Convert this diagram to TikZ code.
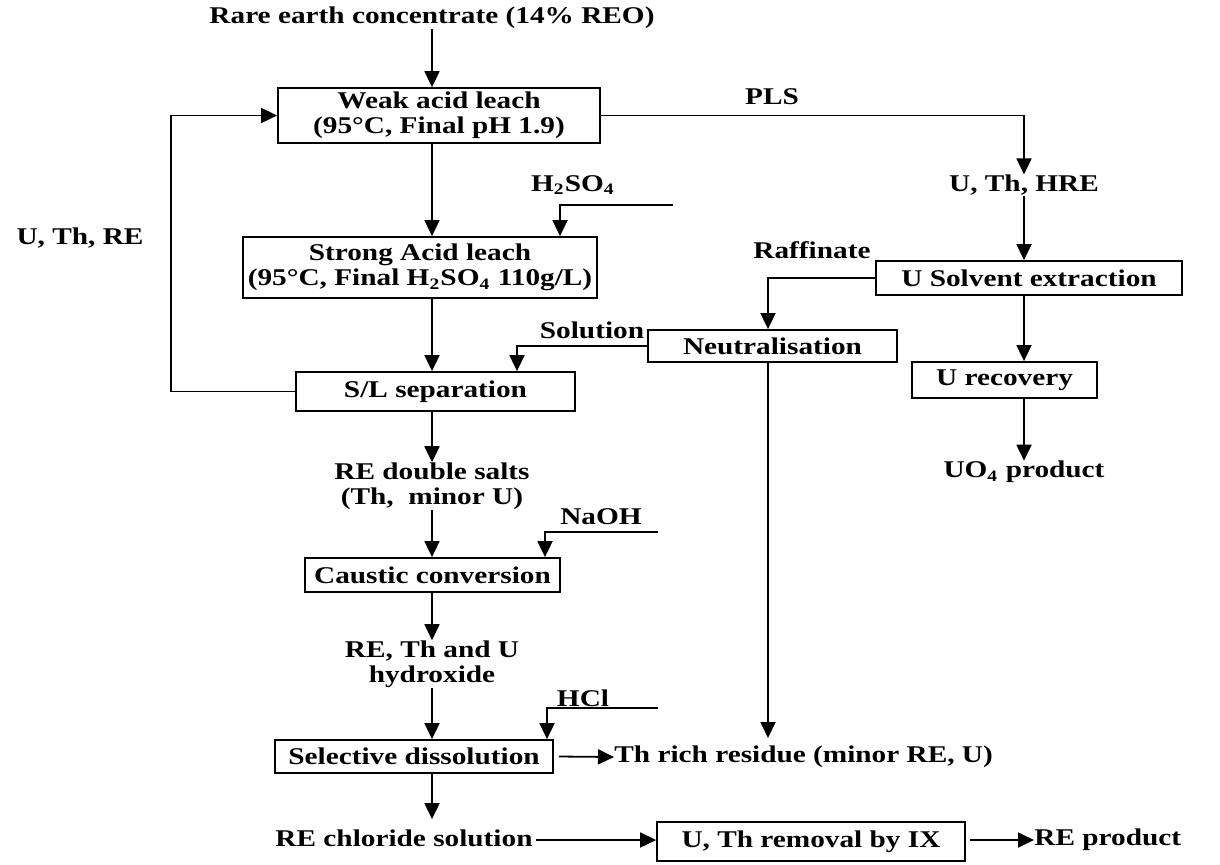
\documentclass[tikz,border=0pt]{standalone}
\usepackage{fontspec}
\setmainfont{Liberation Serif}
\usepackage{graphicx}
\usetikzlibrary{arrows.meta}
\newcommand\sx[1]{\scalebox{1.22}[1]{#1}}
\begin{document}
\begin{tikzpicture}[x=0.5pt,y=-0.5pt,
  every node/.style={font=\fontsize{12}{12.5}\selectfont\bfseries, inner sep=0pt, align=center},
  box/.style={draw, line width=0.9pt},
  arr/.style={line width=0.9pt, -{Triangle[length=8pt,width=7.5pt]}},
  ln/.style={line width=0.9pt}]
\useasboundingbox (0,0) rectangle (1220,864);
% guide coordinates
\coordinate (cx) at (432,0);
\coordinate (rx) at (1024,0);
\coordinate (nx) at (768,0);
\coordinate (sx) at (517,0);
\coordinate (h2x) at (560,0);
\coordinate (nax) at (545,0);
\coordinate (hcx) at (547,0);
\coordinate (h2in) at (673,205);
\coordinate (nain) at (658,532);
\coordinate (hcin) at (658,708);
\coordinate (thtop) at (768,738);
\coordinate (reout) at (536,840);
\coordinate (ixout) at (970,840);
% boxes
\node[box, minimum width=161pt, minimum height=27.5pt] (weak) at (439,115.5) {\sx{Weak acid leach}\\\sx{(95°C, Final pH 1.9)}};
\node[box, minimum width=177pt, minimum height=30.5pt] (strong) at (420,267.5) {\sx{Strong Acid leach}\\\sx{(95°C, Final H\textsubscript{2}SO\textsubscript{4} 110g/L)}};
\node[box, minimum width=139.5pt, minimum height=19.5pt] (sl) at (435.5,391.5) {\sx{S/L separation}};
\node[box, minimum width=127.5pt, minimum height=17pt] (caustic) at (432.5,575) {\sx{Caustic conversion}};
\node[box, minimum width=139pt, minimum height=16.5pt] (selective) at (414,756.5) {\sx{Selective dissolution}};
\node[box, minimum width=154pt, minimum height=19.5pt] (ix) at (811,841.5) {\sx{U, Th removal by IX}};
\node[box, minimum width=124.5pt, minimum height=16pt] (neutral) at (772.5,346) {\sx{Neutralisation}};
\node[box, minimum width=153pt, minimum height=17pt] (usx) at (1029,278) {\sx{U Solvent extraction}};
\node[box, minimum width=92.5pt, minimum height=18pt] (urec) at (1004.5,380) {\sx{U recovery}};
% labels
\node (title) at (432,18) {\sx{Rare earth concentrate (14\% REO)}};
\node (pls) at (772,97) {\sx{PLS}};
\node (uthre) at (1024,185) {\sx{U, Th, HRE}};
\node (uthrel) at (80,238) {\sx{U, Th, RE}};
\node (h2so4) at (573,185) {\sx{H\textsubscript{2}SO\textsubscript{4}}};
\node (raff) at (812,250) {\sx{Raffinate}};
\node (sol) at (592,330) {\sx{Solution}};
\node (uo4) at (1024,472) {\sx{UO\textsubscript{4} product}};
\node (salts) at (432,486) {\sx{RE double salts}\\\sx{(Th,\ \ minor U)}};
\node (naoh) at (601,517) {\sx{NaOH}};
\node (hydrox) at (432,664) {\sx{RE, Th and U}\\\sx{hydroxide}};
\node (hcl) at (583,698) {\sx{HCl}};
\node[anchor=west] (thres) at (614,757) {\sx{Th rich residue (minor RE, U)}};
\node (recl) at (404,838) {\sx{RE chloride solution}};
\node[anchor=west] (reprod) at (1034,840) {\sx{RE product}};
% connectors
\draw[arr] (title.south) -- (weak.north -| cx);
\draw[arr] (weak.south -| cx) -- (strong.north -| cx);
\draw[arr] (strong.south -| cx) -- (sl.north -| cx);
\draw[arr] (sl.west) -- ++(-124,0) |- (weak.west);
\draw[arr] (weak.east) -| (uthre.north);
\draw[arr] (h2in) -| (strong.north -| h2x);
\draw[arr] (uthre.south) -- (usx.north -| rx);
\draw[arr] (usx.south -| rx) -- (urec.north -| rx);
\draw[arr] (urec.south -| rx) -- (uo4.north);
\draw[arr] (usx.west) -| (neutral.north -| nx);
\draw[arr] (neutral.west) -| (sl.north -| sx);
\draw[arr] (neutral.south -| nx) -- (thtop);
\draw[arr] (sl.south -| cx) -- (salts.north);
\draw[arr] (salts.south) -- (caustic.north -| cx);
\draw[arr] (nain) -| (caustic.north -| nax);
\draw[arr] (caustic.south -| cx) -- (hydrox.north);
\draw[arr] (hydrox.south) -- (selective.north -| cx);
\draw[arr] (hcin) -| (selective.north -| hcx);
\draw[arr] ([xshift=2.5pt]selective.east) -- (thres.west);
\draw[arr] (selective.south -| cx) -- ([yshift=5pt]recl.north -| cx);
\draw[arr] (reout) -- (reout -| ix.west);
\draw[arr] (ixout) -- (ixout -| reprod.west);
\end{tikzpicture}
\end{document}
